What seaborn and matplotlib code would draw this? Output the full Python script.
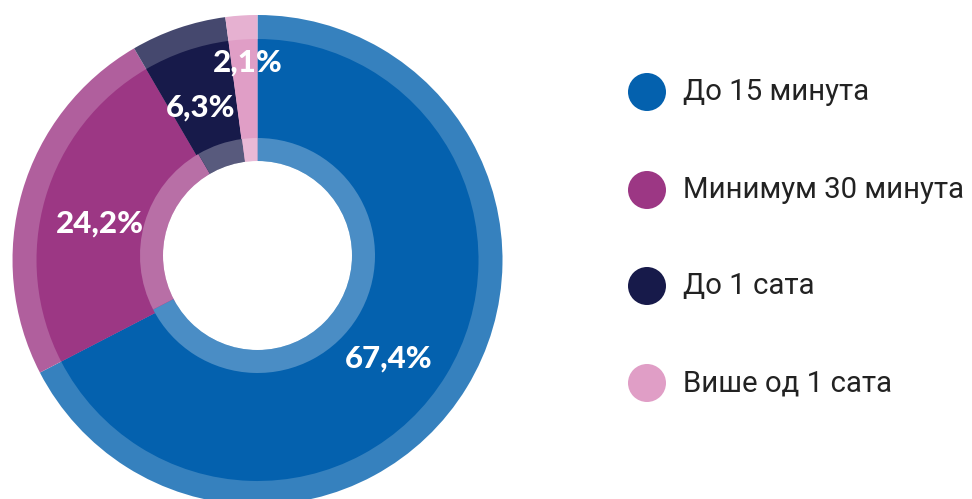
import matplotlib
matplotlib.use("Agg")
import matplotlib.pyplot as plt
import seaborn as sns
import numpy as np
from matplotlib.colors import to_rgb

sns.set_theme(style="white")
plt.rcParams['font.family'] = ['Roboto', 'DejaVu Sans']

# Data
categories = ["До 15 минута", "Минимум 30 минута", "До 1 сата", "Више од 1 сата"]
values = [67.4, 24.2, 6.3, 2.1]
value_labels = ["67,4%", "24,2%", "6,3%", "2,1%"]
base_colors = ["#0461AE", "#9C3784", "#171A4A", "#E09EC6"]

def lighten(c, a):
    r = np.array(to_rgb(c))
    return tuple(r + (1 - r) * a)

outer_colors = [lighten(c, 0.20) for c in base_colors]
inner_colors = [lighten(c, 0.28) for c in base_colors]

W, H = 972, 499
fig = plt.figure(figsize=(W / 100, H / 100), dpi=100)
ax = fig.add_axes([0, 0, 1, 1])

c_outer = (257.5, H - 260)
c_inner = (257.5, H - 255.5)
R = 245
ow = 24
hole = 94.5
r_inner = 117.5

kw = dict(startangle=90, counterclock=False, frame=True)

ax.pie(values, radius=R, colors=outer_colors, center=c_outer,
       wedgeprops=dict(linewidth=0), **kw)
ax.pie(values, radius=R - ow, colors=base_colors, center=c_outer,
       wedgeprops=dict(linewidth=0), **kw)
ax.pie(values, radius=r_inner, colors=inner_colors, center=c_inner,
       wedgeprops=dict(width=r_inner - hole, linewidth=0), **kw)
ax.add_patch(plt.Circle(c_inner, hole, color="white", lw=0, zorder=5))

ax.set_xlim(0, W)
ax.set_ylim(0, H)
ax.set_aspect("equal")
ax.axis("off")

# value labels (pixel positions of label centres)
label_pos = [(389, 359), (100, 224), (201, 108), (248, 63)]
for (x, y), t in zip(label_pos, value_labels):
    ax.text(x, H - y, t, ha="center", va="center", color="white", zorder=6,
            fontsize=22.5, fontweight=900, family=["Lato", "DejaVu Sans"])

# legend
leg_y = [92, 190, 286, 383]
for c, lab, y in zip(base_colors, categories, leg_y):
    ax.add_patch(plt.Circle((647, H - y), 19, color=c, lw=0))
    ax.text(683, H - y, lab, ha="left", va="center", color="#222222",
            fontsize=21.2)

fig.savefig("out.png", dpi=100)
